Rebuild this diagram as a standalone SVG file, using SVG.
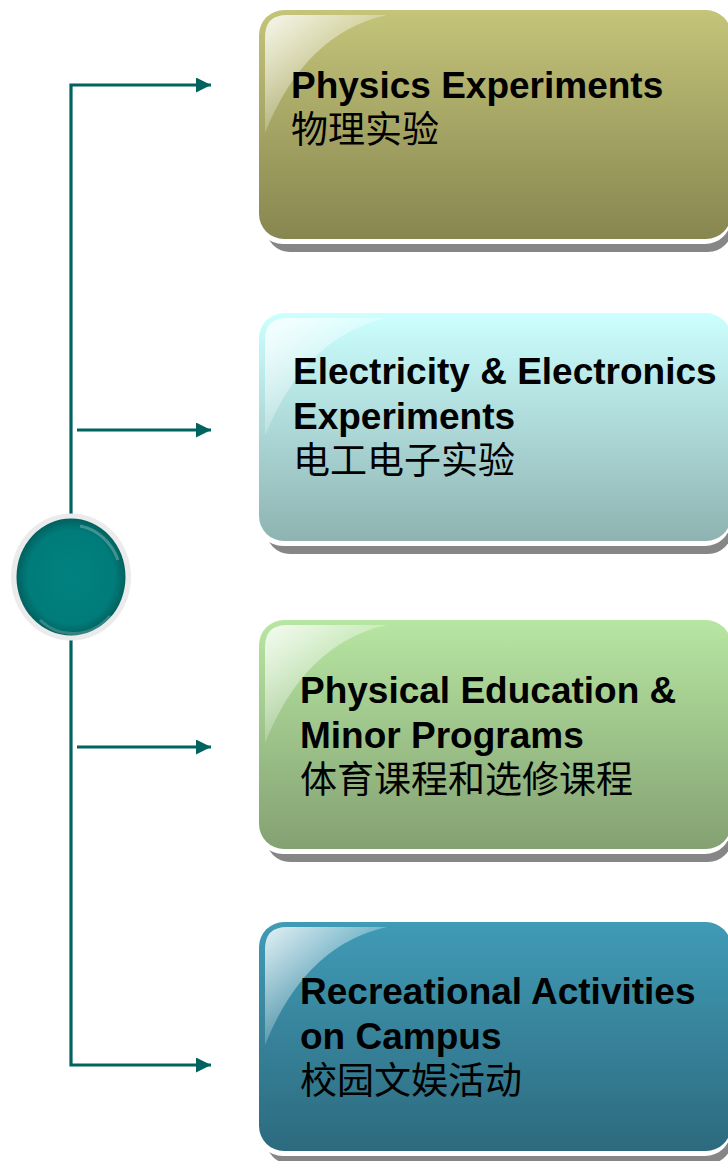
<svg xmlns="http://www.w3.org/2000/svg" width="728" height="1161" viewBox="0 0 728 1161">
<style>
.en{font-family:"Liberation Sans",Arial,sans-serif;font-weight:bold;font-size:37px;fill:#000}
.zh{font-family:"Liberation Sans","Noto Sans CJK SC",sans-serif;font-size:37px;fill:#000}
.conn{fill:none;stroke:#00635f;stroke-width:3.2;stroke-linejoin:miter}
.shadow{fill:#868686}
.halo{fill:#ffffff}
</style>
<defs>
<marker id="arr" markerUnits="userSpaceOnUse" markerWidth="16" markerHeight="16" refX="15" refY="7.5" orient="auto">
<path d="M0,0 L15,7.5 L0,15 Z" fill="#00635f"/>
</marker>
<linearGradient id="g1" x1="0" y1="0" x2="0" y2="1"><stop offset="0" stop-color="#c4c47a"/><stop offset="1" stop-color="#878650"/></linearGradient>
<linearGradient id="g2" x1="0" y1="0" x2="0" y2="1"><stop offset="0" stop-color="#ccffff"/><stop offset="1" stop-color="#8eb3b1"/></linearGradient>
<linearGradient id="g3" x1="0" y1="0" x2="0" y2="1"><stop offset="0" stop-color="#b7e6a2"/><stop offset="1" stop-color="#84a172"/></linearGradient>
<linearGradient id="g4" x1="0" y1="0" x2="0" y2="1"><stop offset="0" stop-color="#409bb6"/><stop offset="1" stop-color="#2d6a7e"/></linearGradient>
<linearGradient id="gloss" x1="0" y1="0" x2="0.9" y2="1"><stop offset="0" stop-color="#ffffff" stop-opacity="0.85"/><stop offset="0.6" stop-color="#ffffff" stop-opacity="0.15"/><stop offset="1" stop-color="#ffffff" stop-opacity="0"/></linearGradient>
<radialGradient id="teal" cx="0.5" cy="0.5" r="0.5"><stop offset="0" stop-color="#008280"/><stop offset="0.8" stop-color="#007c7a"/><stop offset="1" stop-color="#00615f"/></radialGradient>
<path id="glossShape" d="M0,22 Q0,0 22,0 L122,0 Q40,18 0,118 Z"/>
</defs>

<g id="connectors">
<path class="conn" d="M71,577 V85 H211" marker-end="url(#arr)"/>
<path class="conn" d="M71,577 V1065 H211" marker-end="url(#arr)"/>
<path class="conn" d="M77,430 H211" marker-end="url(#arr)"/>
<path class="conn" d="M77,747 H211" marker-end="url(#arr)"/>
</g>

<g id="hub">
<ellipse cx="71" cy="577" rx="60" ry="63.5" fill="#ebebeb"/>
<ellipse cx="71" cy="577" rx="54.5" ry="58.5" fill="url(#teal)"/>
<path d="M80,526 A50,54 0 0 1 118,560" fill="none" stroke="#ffffff" stroke-opacity="0.25" stroke-width="3"/>
<path d="M40,620 A50,54 0 0 0 110,616" fill="none" stroke="#ffffff" stroke-opacity="0.2" stroke-width="3"/>
</g>

<g id="node1">
<rect class="shadow" x="266" y="20" width="466" height="232" rx="24"/>
<rect class="halo" x="257" y="9" width="474" height="235" rx="26"/>
<rect x="259" y="10" width="472" height="229" rx="25" fill="url(#g1)"/>
<use href="#glossShape" x="265" y="15" fill="url(#gloss)"/>
<text class="en" x="291" y="98">Physics Experiments</text>
<text class="zh" x="291" y="143">物理实验</text>
</g>

<g id="node2">
<rect class="shadow" x="266" y="323" width="466" height="231" rx="24"/>
<rect class="halo" x="257" y="312" width="474" height="234" rx="26"/>
<rect x="259" y="313" width="472" height="228" rx="25" fill="url(#g2)"/>
<use href="#glossShape" x="265" y="318" fill="url(#gloss)"/>
<text class="en" x="293" y="384">Electricity &amp; Electronics</text>
<text class="en" x="293" y="429">Experiments</text>
<text class="zh" x="293" y="474">电工电子实验</text>
</g>

<g id="node3">
<rect class="shadow" x="266" y="630" width="466" height="232" rx="24"/>
<rect class="halo" x="257" y="619" width="474" height="235" rx="26"/>
<rect x="259" y="620" width="472" height="229" rx="25" fill="url(#g3)"/>
<use href="#glossShape" x="265" y="625" fill="url(#gloss)"/>
<text class="en" x="300" y="703">Physical Education &amp;</text>
<text class="en" x="300" y="748">Minor Programs</text>
<text class="zh" x="300" y="793">体育课程和选修课程</text>
</g>

<g id="node4">
<rect class="shadow" x="266" y="932" width="466" height="232" rx="24"/>
<rect class="halo" x="257" y="921" width="474" height="235" rx="26"/>
<rect x="259" y="922" width="472" height="229" rx="25" fill="url(#g4)"/>
<use href="#glossShape" x="265" y="927" fill="url(#gloss)"/>
<text class="en" x="300" y="1004">Recreational Activities</text>
<text class="en" x="300" y="1049">on Campus</text>
<text class="zh" x="300" y="1094">校园文娱活动</text>
</g>
</svg>
